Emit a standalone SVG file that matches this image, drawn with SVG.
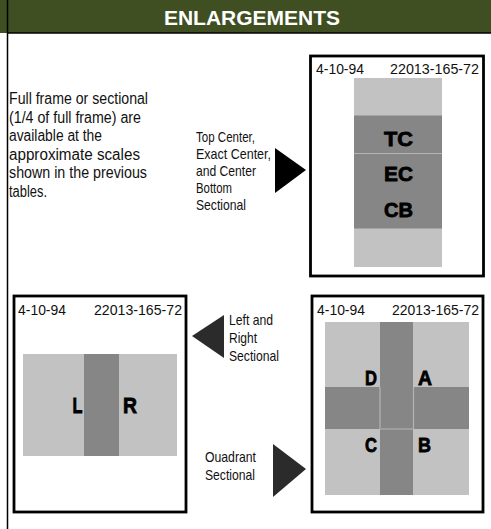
<svg xmlns="http://www.w3.org/2000/svg" width="491" height="529" viewBox="0 0 491 529">
<style>
.t{font-family:"Liberation Sans",Arial,sans-serif;fill:#111;}
.body{font-size:16px;}
.lbl{font-size:15px;}
.date{font-size:14.5px;}
.big{font-family:"Liberation Sans",Arial,sans-serif;font-weight:bold;fill:#000;stroke:#000;stroke-width:0.8;}
.frame{fill:#fff;stroke:#000;stroke-width:2.8;}
.lt{fill:#c2c2c2;}
.dk{fill:#868686;}
.sep{stroke:#b4b4b4;stroke-width:1.2;}
</style>
<rect x="0" y="0" width="491" height="529" fill="#fff"/>
<g id="header">
<rect x="0" y="0" width="491" height="33" fill="#404f22"/>
<line x1="7" y1="33" x2="491" y2="33" stroke="#000" stroke-width="1.5"/>
<line x1="7.5" y1="0" x2="7.5" y2="529" stroke="#000" stroke-width="1.5"/>
<text x="252" y="25" text-anchor="middle" font-family="Liberation Sans,Arial,sans-serif" font-weight="bold" font-size="21" fill="#fff">ENLARGEMENTS</text>
</g>
<g id="intro-text">
<text class="t body" x="9" y="104" textLength="139" lengthAdjust="spacingAndGlyphs">Full frame or sectional</text>
<text class="t body" x="9" y="122.5" textLength="132" lengthAdjust="spacingAndGlyphs">(1/4 of full frame) are</text>
<text class="t body" x="9" y="141" textLength="93" lengthAdjust="spacingAndGlyphs">available at the</text>
<text class="t body" x="9" y="159.5" textLength="131" lengthAdjust="spacingAndGlyphs">approximate scales</text>
<text class="t body" x="9" y="178" textLength="138" lengthAdjust="spacingAndGlyphs">shown in the previous</text>
<text class="t body" x="9" y="196.5" textLength="38" lengthAdjust="spacingAndGlyphs">tables.</text>
</g>
<g id="label-center">
<text class="t lbl" x="196" y="142" textLength="59" lengthAdjust="spacingAndGlyphs">Top Center,</text>
<text class="t lbl" x="196" y="159" textLength="75" lengthAdjust="spacingAndGlyphs">Exact Center,</text>
<text class="t lbl" x="196" y="176" textLength="60" lengthAdjust="spacingAndGlyphs">and Center</text>
<text class="t lbl" x="196" y="193" textLength="36" lengthAdjust="spacingAndGlyphs">Bottom</text>
<text class="t lbl" x="196" y="210" textLength="50" lengthAdjust="spacingAndGlyphs">Sectional</text>
</g>
<g id="label-lr">
<text class="t lbl" x="229" y="325" textLength="44" lengthAdjust="spacingAndGlyphs">Left and</text>
<text class="t lbl" x="229" y="343" textLength="28" lengthAdjust="spacingAndGlyphs">Right</text>
<text class="t lbl" x="229" y="361" textLength="50" lengthAdjust="spacingAndGlyphs">Sectional</text>
</g>
<g id="label-quad">
<text class="t lbl" x="205" y="462" textLength="51" lengthAdjust="spacingAndGlyphs">Ouadrant</text>
<text class="t lbl" x="205" y="480" textLength="50" lengthAdjust="spacingAndGlyphs">Sectional</text>
</g>
<g id="connectors">
<polygon points="275,148 306,170 275,193" fill="#000"/>
<polygon points="224,315 192,336 224,358" fill="#2b2b2b"/>
<polygon points="273,444 306,469 273,497" fill="#2b2b2b"/>
</g>
<g id="box-center">
<rect class="frame" x="310.5" y="56" width="173" height="220"/>
<text class="t date" x="316" y="74" textLength="48" lengthAdjust="spacingAndGlyphs">4-10-94</text>
<text class="t date" x="390" y="74" textLength="89" lengthAdjust="spacingAndGlyphs">22013-165-72</text>
<rect class="lt" x="354" y="78" width="88" height="189"/>
<rect class="dk" x="354" y="115.5" width="88" height="113"/>
<line class="sep" x1="354" y1="153.5" x2="442" y2="153.5"/>
<text class="big" x="384" y="146" font-size="21" textLength="29" lengthAdjust="spacingAndGlyphs">TC</text>
<text class="big" x="384" y="181" font-size="21" textLength="29" lengthAdjust="spacingAndGlyphs">EC</text>
<text class="big" x="384" y="217" font-size="21" textLength="29" lengthAdjust="spacingAndGlyphs">CB</text>
</g>
<g id="box-lr">
<rect class="frame" x="14" y="296" width="172" height="216"/>
<text class="t date" x="18" y="315" textLength="48" lengthAdjust="spacingAndGlyphs">4-10-94</text>
<text class="t date" x="94" y="315" textLength="88" lengthAdjust="spacingAndGlyphs">22013-165-72</text>
<rect class="lt" x="23" y="354" width="154" height="102"/>
<rect class="dk" x="84" y="354" width="35" height="102"/>
<text class="big" x="72.5" y="413" font-size="22" textLength="10" lengthAdjust="spacingAndGlyphs">L</text>
<text class="big" x="123" y="413" font-size="22" textLength="14" lengthAdjust="spacingAndGlyphs">R</text>
</g>
<g id="box-quad">
<rect class="frame" x="312" y="296" width="171" height="216"/>
<text class="t date" x="317" y="315" textLength="48" lengthAdjust="spacingAndGlyphs">4-10-94</text>
<text class="t date" x="392" y="315" textLength="87" lengthAdjust="spacingAndGlyphs">22013-165-72</text>
<rect class="lt" x="325" y="322" width="144" height="173"/>
<rect class="dk" x="380" y="322" width="33" height="173"/>
<rect class="dk" x="325" y="387" width="144" height="42"/>
<line class="sep" x1="380" y1="387" x2="380" y2="429"/>
<line class="sep" x1="413.5" y1="387" x2="413.5" y2="429"/>
<line class="sep" x1="380" y1="429" x2="413.5" y2="429"/>
<text class="big" x="365" y="385" font-size="21" textLength="12" lengthAdjust="spacingAndGlyphs">D</text>
<text class="big" x="418" y="385" font-size="21" textLength="14" lengthAdjust="spacingAndGlyphs">A</text>
<text class="big" x="365" y="452" font-size="21" textLength="12" lengthAdjust="spacingAndGlyphs">C</text>
<text class="big" x="418" y="452" font-size="21" textLength="13" lengthAdjust="spacingAndGlyphs">B</text>
</g>
</svg>
